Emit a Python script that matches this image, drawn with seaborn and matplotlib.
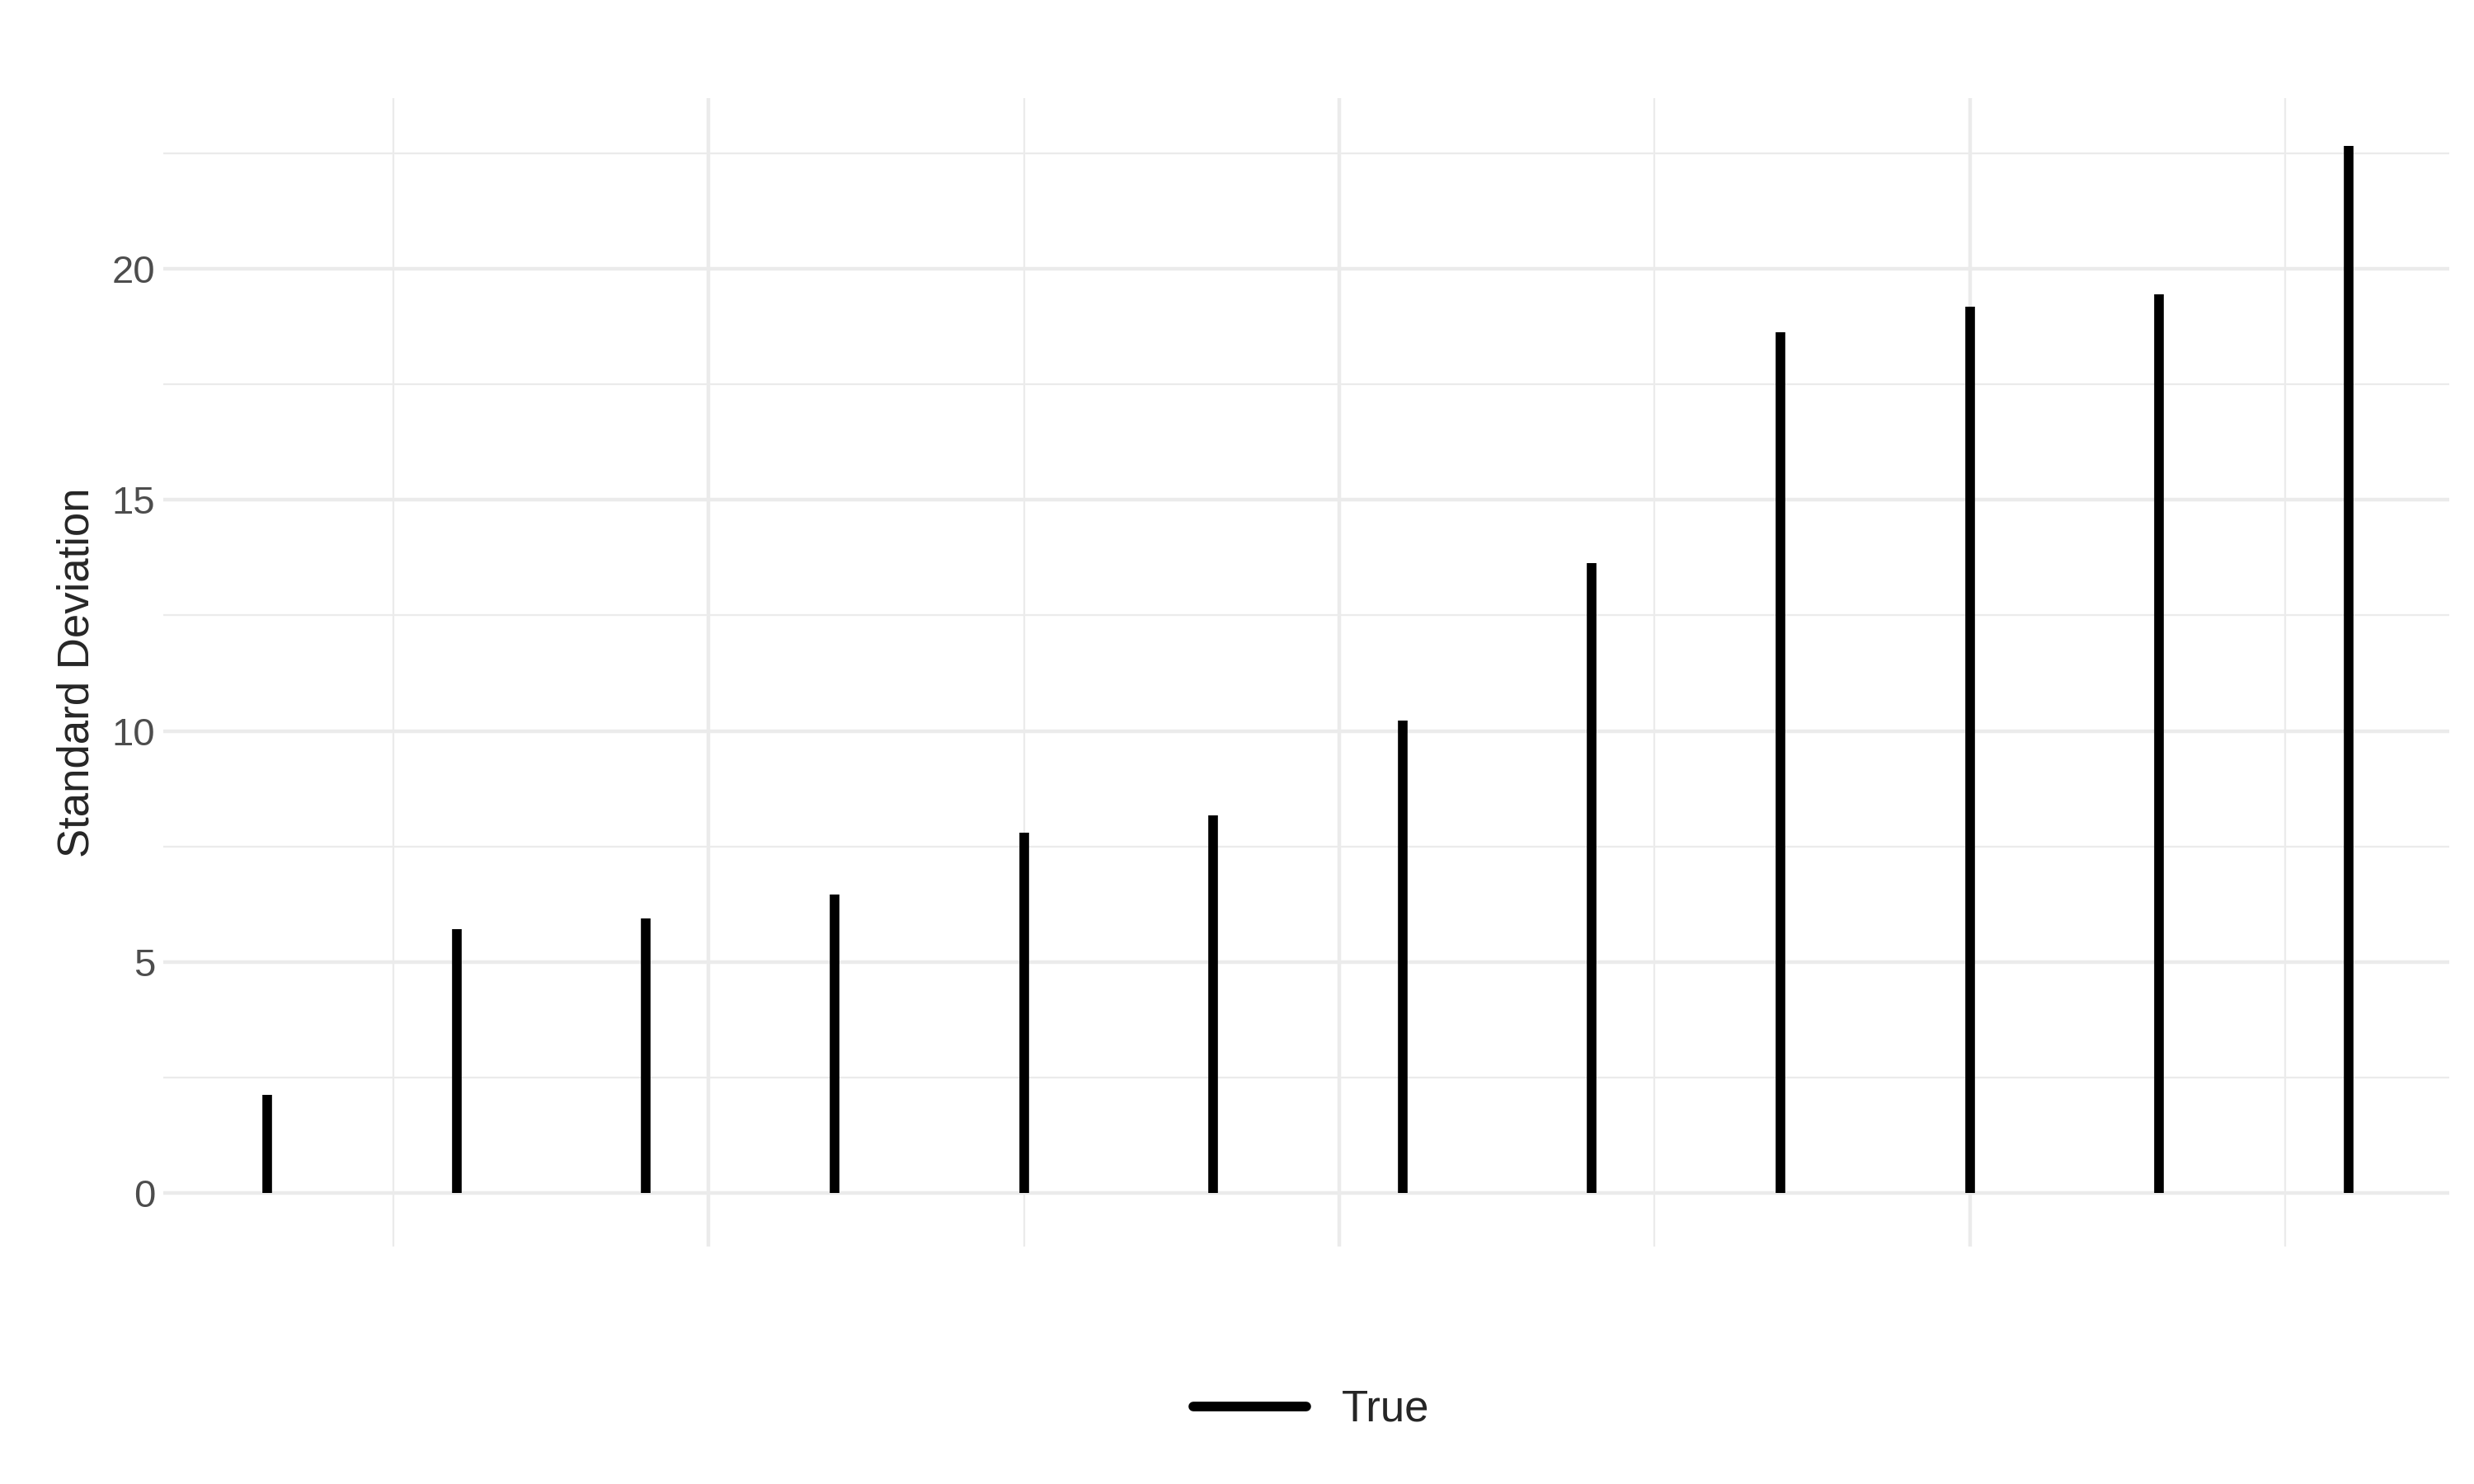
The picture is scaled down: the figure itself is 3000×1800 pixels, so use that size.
import matplotlib
matplotlib.use("Agg")
import matplotlib.pyplot as plt
import seaborn as sns
from matplotlib.ticker import MultipleLocator
from matplotlib.lines import Line2D

sns.set_theme(style="white")
plt.rcParams['font.family'] = ['Liberation Sans', 'DejaVu Sans']

# bar positions and standard deviations
x_pos = [3, 6, 9, 12, 15, 18, 21, 24, 27, 30, 33, 36]
std_dev = [2.12, 5.71, 5.95, 6.46, 7.80, 8.17, 10.22, 13.64, 18.63, 19.18, 19.45, 22.67]

fig = plt.figure(figsize=(15, 9), dpi=200)
ax = fig.add_axes([0.066, 0.16, 0.924, 0.774])

ax.xaxis.set_major_locator(MultipleLocator(10))
ax.xaxis.set_minor_locator(MultipleLocator(5))
ax.yaxis.set_major_locator(MultipleLocator(5))
ax.yaxis.set_minor_locator(MultipleLocator(2.5))
ax.grid(which='major', color='#ebebeb', linewidth=1.6)
ax.grid(which='minor', color='#ebebeb', linewidth=0.8)
ax.set_axisbelow(True)

ax.vlines(x_pos, 0, std_dev, color='black', linewidth=4.2)

ax.set_xlim(1.35, 37.6)
ax.set_ylim(-1.16, 23.7)
for s in ax.spines.values():
    s.set_visible(False)
ax.tick_params(axis='x', labelbottom=False, length=0)
ax.tick_params(axis='y', which='both', length=0, labelsize=17, labelcolor='#4d4d4d')
ax.set_ylabel('Standard Deviation', fontsize=19, labelpad=6)

handle = Line2D([], [], color='black', linewidth=4.2)
fig.legend([handle], ['True'], loc='center', bbox_to_anchor=(0.53, 0.05),
           frameon=False, fontsize=19, handlelength=2.6)

fig.savefig('out.png', dpi=200)
